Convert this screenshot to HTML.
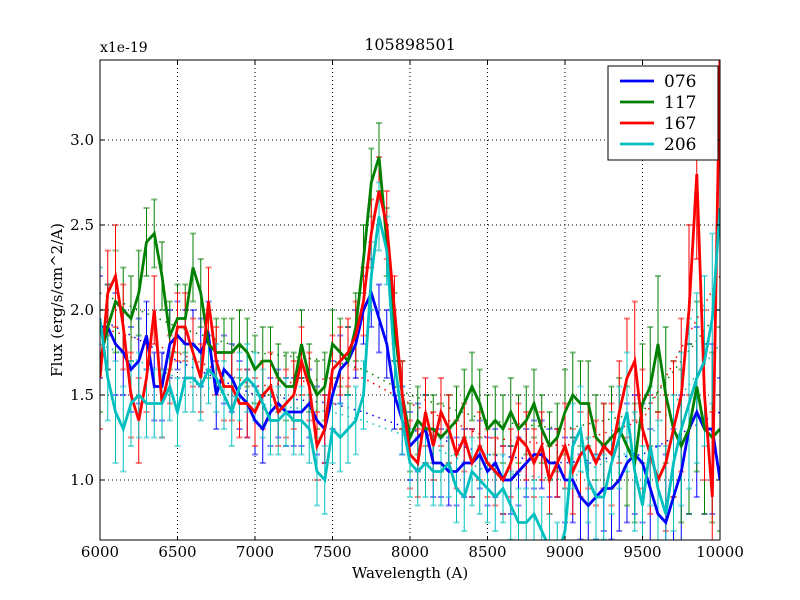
<!DOCTYPE html>
<html><head><meta charset="utf-8"><style>
body{margin:0;background:#fff;}
svg{display:block;font-family:"DejaVu Serif","Liberation Serif",serif;}
</style></head><body>
<svg id="chart" width="800" height="600">
<rect width="800" height="600" fill="#fff"/>
<defs><clipPath id="clip"><rect x="100" y="60" width="620" height="480"/></clipPath></defs>
<g id="grid"></g>
<g id="series" clip-path="url(#clip)"></g>
<rect x="100" y="60" width="620" height="480" fill="none" stroke="#000" stroke-width="1"/>
<g id="ticks"></g>
<text x="410" y="50" text-anchor="middle" font-size="16">105898501</text>
<text x="100" y="52" font-size="14">x1e-19</text>
<text x="410" y="578" text-anchor="middle" font-size="15">Wavelength (A)</text>
<text transform="translate(62,300) rotate(-90)" text-anchor="middle" font-size="15">Flux (erg/s/cm^2/A)</text>
<g id="legend">
<rect x="608" y="66" width="110" height="94" fill="#fff" stroke="#000"/>
</g>
</svg>
<script>
const wavelengths=[6000,6050,6100,6150,6200,6250,6300,6350,6400,6450,6500,6550,6600,6650,6700,6750,6800,6850,6900,6950,7000,7050,7100,7150,7200,7250,7300,7350,7400,7450,7500,7550,7600,7650,7700,7750,7800,7850,7900,7950,8000,8050,8100,8150,8200,8250,8300,8350,8400,8450,8500,8550,8600,8650,8700,8750,8800,8850,8900,8950,9000,9050,9100,9150,9200,9250,9300,9350,9400,9450,9500,9550,9600,9650,9700,9750,9800,9850,9900,9950,10000];
const series076=[1.9,1.9,1.8,1.75,1.65,1.7,1.85,1.55,1.55,1.8,1.85,1.8,1.8,1.75,1.85,1.5,1.65,1.6,1.5,1.45,1.35,1.3,1.4,1.45,1.4,1.4,1.4,1.45,1.35,1.3,1.5,1.65,1.7,1.8,2.0,2.1,1.95,1.8,1.5,1.35,1.2,1.25,1.3,1.1,1.1,1.05,1.05,1.1,1.1,1.15,1.05,1.1,1.0,1.0,1.05,1.1,1.15,1.15,1.1,1.1,1.0,1.0,0.9,0.85,0.9,0.95,0.95,1.0,1.1,1.15,1.1,0.95,0.8,0.75,0.9,1.05,1.3,1.4,1.3,1.3,1.0];
const series117=[1.7,1.9,2.05,2.0,1.95,2.1,2.4,2.45,2.2,1.85,1.95,1.95,2.25,2.1,1.8,1.75,1.75,1.75,1.8,1.75,1.65,1.7,1.7,1.6,1.55,1.55,1.8,1.6,1.5,1.55,1.8,1.75,1.7,1.9,2.3,2.75,2.9,2.4,1.9,1.5,1.25,1.35,1.3,1.3,1.25,1.3,1.35,1.45,1.55,1.45,1.3,1.35,1.3,1.4,1.3,1.35,1.45,1.3,1.2,1.25,1.4,1.5,1.45,1.45,1.25,1.2,1.25,1.3,1.2,1.1,1.45,1.55,1.8,1.5,1.3,1.2,1.3,1.55,1.3,1.25,1.3];
const series167=[1.6,2.1,2.2,1.9,1.5,1.35,1.6,2.0,1.45,1.65,1.9,1.9,1.75,1.6,2.05,1.7,1.55,1.55,1.45,1.45,1.4,1.5,1.55,1.4,1.45,1.5,1.7,1.55,1.2,1.3,1.65,1.7,1.75,1.85,2.05,2.45,2.7,2.5,2.0,1.5,1.15,1.1,1.4,1.2,1.4,1.3,1.15,1.25,1.1,1.2,1.1,1.05,1.0,1.1,1.25,1.2,1.1,1.2,1.0,1.1,1.2,1.05,1.15,1.2,1.1,1.2,1.15,1.4,1.6,1.7,1.3,1.15,1.0,1.1,1.3,1.5,2.0,2.8,1.5,0.9,3.5];
const series206=[1.95,1.6,1.4,1.3,1.45,1.5,1.45,1.45,1.45,1.55,1.4,1.6,1.6,1.55,1.65,1.6,1.5,1.4,1.55,1.6,1.55,1.45,1.35,1.35,1.4,1.35,1.35,1.3,1.05,1.0,1.3,1.25,1.3,1.35,1.5,2.2,2.55,2.35,1.7,1.35,1.1,1.05,1.1,1.05,1.05,1.1,0.95,0.9,1.05,1.0,0.95,0.9,0.95,0.85,0.75,0.75,0.8,0.7,0.6,0.55,0.7,1.2,1.3,1.0,0.9,0.9,1.1,1.25,1.4,1.05,0.85,1.2,0.95,0.8,1.1,1.3,1.45,1.6,1.7,1.95,2.6];
const errors=[0.3,0.25,0.3,0.25,0.25,0.25,0.2,0.2,0.2,0.2,0.2,0.2,0.2,0.2,0.2,0.2,0.2,0.2,0.2,0.2,0.2,0.2,0.2,0.2,0.2,0.2,0.2,0.2,0.2,0.2,0.2,0.2,0.2,0.2,0.2,0.2,0.2,0.2,0.2,0.2,0.2,0.2,0.2,0.2,0.2,0.2,0.2,0.2,0.2,0.2,0.2,0.2,0.2,0.2,0.2,0.2,0.2,0.2,0.2,0.2,0.25,0.25,0.25,0.25,0.25,0.25,0.3,0.3,0.35,0.35,0.35,0.35,0.4,0.4,0.4,0.45,0.5,0.5,0.5,0.5,0.6];
const fitWavelengths=[6000,6500,7000,7500,7700,8000,8500,9000,9500,10000];
const fit076=[1.95,1.7,1.5,1.45,1.4,1.3,1.15,1.1,1.15,1.4];
const fit117=[2.1,1.9,1.75,1.7,1.65,1.5,1.35,1.3,1.4,2.0];
const fit167=[1.9,1.75,1.55,1.6,1.6,1.45,1.25,1.2,1.35,2.2];
const fit206=[1.8,1.6,1.45,1.4,1.35,1.25,1.05,1.0,1.2,1.8];
const seriesNames=["076","117","167","206"];
const seriesColors=["#0000ff","#008000","#ff0000","#00bfbf"];
const xTicks=[6000,6500,7000,7500,8000,8500,9000,9500,10000];
const yTicks=[1.0,1.5,2.0,2.5,3.0];

const NS="http://www.w3.org/2000/svg";
const X0=100,X1=720,Y0=60,Y1=540,XMIN=6000,XMAX=10000,YMIN=1-60/170,YMAX=1+420/170;
const xs=v=>X0+(v-XMIN)/(XMAX-XMIN)*(X1-X0);
const ys=v=>Y1-(v-YMIN)/(YMAX-YMIN)*(Y1-Y0);
function mk(tag,attrs,parent){const e=document.createElementNS(NS,tag);for(const k in attrs)e.setAttribute(k,attrs[k]);parent.appendChild(e);return e;}
const grid=document.getElementById('grid'),ticks=document.getElementById('ticks'),ser=document.getElementById('series'),leg=document.getElementById('legend');
xTicks.forEach(t=>{const x=xs(t);
 const g=mk('line',{x1:x,x2:x,y1:Y0,y2:Y1,stroke:'#000','stroke-dasharray':'1,3'},grid);
 
 
 mk('line',{x1:x,x2:x,y1:Y1,y2:Y1-4,stroke:'#000'},ticks);
 mk('line',{x1:x,x2:x,y1:Y0,y2:Y0+4,stroke:'#000'},ticks);
 const tx=mk('text',{x:x,y:Y1+17,'text-anchor':'middle','font-size':15},ticks);tx.textContent=t;
 
 
});
yTicks.forEach(t=>{const y=ys(t);
 const g=mk('line',{x1:X0,x2:X1,y1:y,y2:y,stroke:'#000','stroke-dasharray':'1,3'},grid);
 
 
 mk('line',{x1:X0,x2:X0+4,y1:y,y2:y,stroke:'#000'},ticks);
 mk('line',{x1:X1,x2:X1-4,y1:y,y2:y,stroke:'#000'},ticks);
 const tx=mk('text',{x:X0-6,y:y+5,'text-anchor':'end','font-size':15},ticks);tx.textContent=t.toFixed(1);
 
 
});
[fit076,fit117,fit167,fit206].forEach((vals,si)=>{
 const d=vals.map((v,i)=>(i?'L':'M')+xs(fitWavelengths[i]).toFixed(1)+','+ys(v).toFixed(1)).join('');
 const p=mk('path',{d:d,fill:'none',stroke:seriesColors[si],'stroke-width':1.5,'stroke-dasharray':'1.5,5'},ser);
 
 
});
[series076,series117,series167,series206].forEach((vals,si)=>{
 const c=seriesColors[si];
 const eg=mk('g',{stroke:c,'stroke-width':1},ser);
 
 
 vals.forEach((v,i)=>{const x=xs(wavelengths[i]),e=errors[i];
  mk('line',{x1:x,x2:x,y1:ys(v-e),y2:ys(v+e)},eg);
  mk('line',{x1:x-3,x2:x+3,y1:ys(v-e),y2:ys(v-e),'stroke-opacity':0.5,'stroke-width':2},eg);
  mk('line',{x1:x-3,x2:x+3,y1:ys(v+e),y2:ys(v+e),'stroke-opacity':0.5,'stroke-width':2},eg);
 });
});
[series076,series117,series167,series206].forEach((vals,si)=>{
 const d=vals.map((v,i)=>(i?'L':'M')+xs(wavelengths[i]).toFixed(1)+','+ys(v).toFixed(1)).join('');
 const p=mk('path',{d:d,fill:'none',stroke:seriesColors[si],'stroke-width':2.8,'stroke-linejoin':'miter'},ser);
 
 
});
seriesNames.forEach((n,i)=>{const y=81+i*21;
 const l=mk('line',{x1:620,x2:654,y1:y,y2:y,stroke:seriesColors[i],'stroke-width':2.8},leg);
 
 
 const t=mk('text',{x:664,y:y+6,'font-size':17},leg);t.textContent=n;
 
 
});
</script>
</body></html>
